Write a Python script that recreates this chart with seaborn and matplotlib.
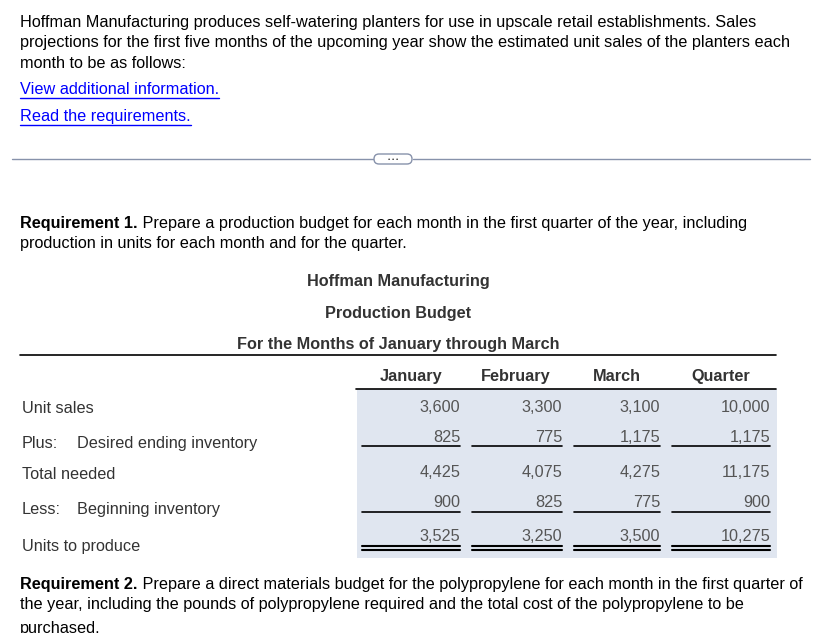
import seaborn as sns
import pandas as pd
from matplotlib import pyplot as plt
from matplotlib.patches import FancyBboxPatch, Rectangle

# Data
months = ['January', 'February', 'March', 'Quarter']
row_labels = ['Unit sales', 'Desired ending inventory', 'Total needed',
              'Beginning inventory', 'Units to produce']
row_prefix = ['', 'Plus:', '', 'Less:', '']
unit_sales = [3600, 3300, 3100, 10000]
ending_inventory = [825, 775, 1175, 1175]
total_needed = [4425, 4075, 4275, 11175]
beginning_inventory = [900, 825, 775, 900]
units_to_produce = [3525, 3250, 3500, 10275]

intro = ['Hoffman Manufacturing produces self-watering planters for use in upscale retail establishments. Sales',
         'projections for the first five months of the upcoming year show the estimated unit sales of the planters each',
         'month to be as follows:']
links = ['View additional information.', 'Read the requirements.']
req1 = ['Prepare a production budget for each month in the first quarter of the year, including',
        'production in units for each month and for the quarter.']
req2 = ['Prepare a direct materials budget for the polypropylene for each month in the first quarter of',
        'the year, including the pounds of polypropylene required and the total cost of the polypropylene to be',
        'purchased.']
titles = ['Hoffman Manufacturing', 'Production Budget', 'For the Months of January through March']

df = pd.DataFrame([unit_sales, ending_inventory, total_needed, beginning_inventory, units_to_produce],
                  index=row_labels, columns=months)

sns.set_theme(style='white')
plt.rcParams['font.family'] = ['Liberation Sans', 'DejaVu Sans']
FS = 11.7

fig = plt.figure(figsize=(8.22, 6.33), dpi=100)
ax = fig.add_axes([0, 0, 1, 1])
ax.set_xlim(0, 822)
ax.set_ylim(633, 0)
ax.axis('off')


def bold_then_normal(x, y, bold, normal, color='black'):
    t = ax.text(x, y, bold, fontsize=FS, fontweight='bold', color=color, va='center', ha='left')
    ax.annotate(' ' + normal, xy=(1, 0.5), xycoords=t, va='center', ha='left', fontsize=FS, color=color)


# intro paragraph
for i, line in enumerate(intro):
    ax.text(20, 22.5 + i * 20.5, line, fontsize=FS, color='black', va='center')

link_texts = []
for i, line in enumerate(links):
    link_texts.append(ax.text(20, 89.5 + i * 27, line, fontsize=FS, color='#0000ff', va='center'))

# separator with button
ax.plot([12, 373], [159, 159], color='#8792ab', lw=1)
ax.plot([413, 810], [159, 159], color='#8792ab', lw=1)
ax.add_patch(FancyBboxPatch((374, 154), 38, 10, boxstyle='round,pad=0,rounding_size=5',
                            fc='white', ec='#8792ab', lw=1))
ax.text(393, 159.5, '• • •', fontsize=4.5, color='#333333', ha='center', va='center')

# requirement 1
bold_then_normal(20, 223.5, 'Requirement 1.', req1[0])
ax.text(20, 243.5, req1[1], fontsize=FS, color='black', va='center')

# table titles
for y, t in zip([281.5, 313.5, 344.5], titles):
    ax.text(398, y, t, fontsize=FS, fontweight='bold', color='#333333', ha='center', va='center')
ax.plot([20, 776], [355, 355], color='black', lw=1.2)

# shaded region and header
ax.add_patch(Rectangle((357, 389), 420, 169, fc='#e0e6f0', ec='none'))
ax.plot([356, 776], [389, 389], color='black', lw=1.2)

col_center = [411, 516, 617, 721]
col_right = [460, 562, 660, 770]
col_left = [362, 472, 574, 672]
for c, m in zip(col_center, months):
    ax.text(c, 376.5, m, fontsize=FS, fontweight='bold', color='#333333', ha='center', va='center')

label_y = [408.5, 443.5, 474.5, 509.5, 546.5]
num_y = [407.5, 437.5, 472.5, 502.5, 536.5]
for i, label in enumerate(df.index):
    if row_prefix[i]:
        ax.text(22, label_y[i], row_prefix[i], fontsize=FS, color='#333333', va='center')
        ax.text(77, label_y[i], label, fontsize=FS, color='#333333', va='center')
    else:
        ax.text(22, label_y[i], label, fontsize=FS, color='#333333', va='center')
    for j, m in enumerate(df.columns):
        ax.text(col_right[j], num_y[i], f'{df.loc[label, m]:,}', fontsize=FS, color='#555555',
                ha='right', va='center')

for j in range(len(months)):
    ax.plot([col_left[j], col_right[j]], [446, 446], color='black', lw=1.2)
    ax.plot([col_left[j], col_right[j]], [512, 512], color='black', lw=1.2)
    ax.plot([col_left[j], col_right[j]], [546, 546], color='black', lw=1.5)
    ax.plot([col_left[j], col_right[j]], [550, 550], color='black', lw=1.5)

# requirement 2
bold_then_normal(20, 584.5, 'Requirement 2.', req2[0])
ax.text(20, 605, req2[1], fontsize=FS, color='black', va='center')
ax.text(20, 629, req2[2], fontsize=FS, color='black', va='center')

# underline links
fig.canvas.draw()
inv = ax.transData.inverted()
for t in link_texts:
    bb = t.get_window_extent()
    (x0, _), (x1, _) = inv.transform([(bb.x0, bb.y0), (bb.x1, bb.y0)])
    y = t.get_position()[1] + 8
    ax.plot([x0, x1], [y, y], color='#0000ff', lw=1)

fig.savefig('out.png', dpi=100)
